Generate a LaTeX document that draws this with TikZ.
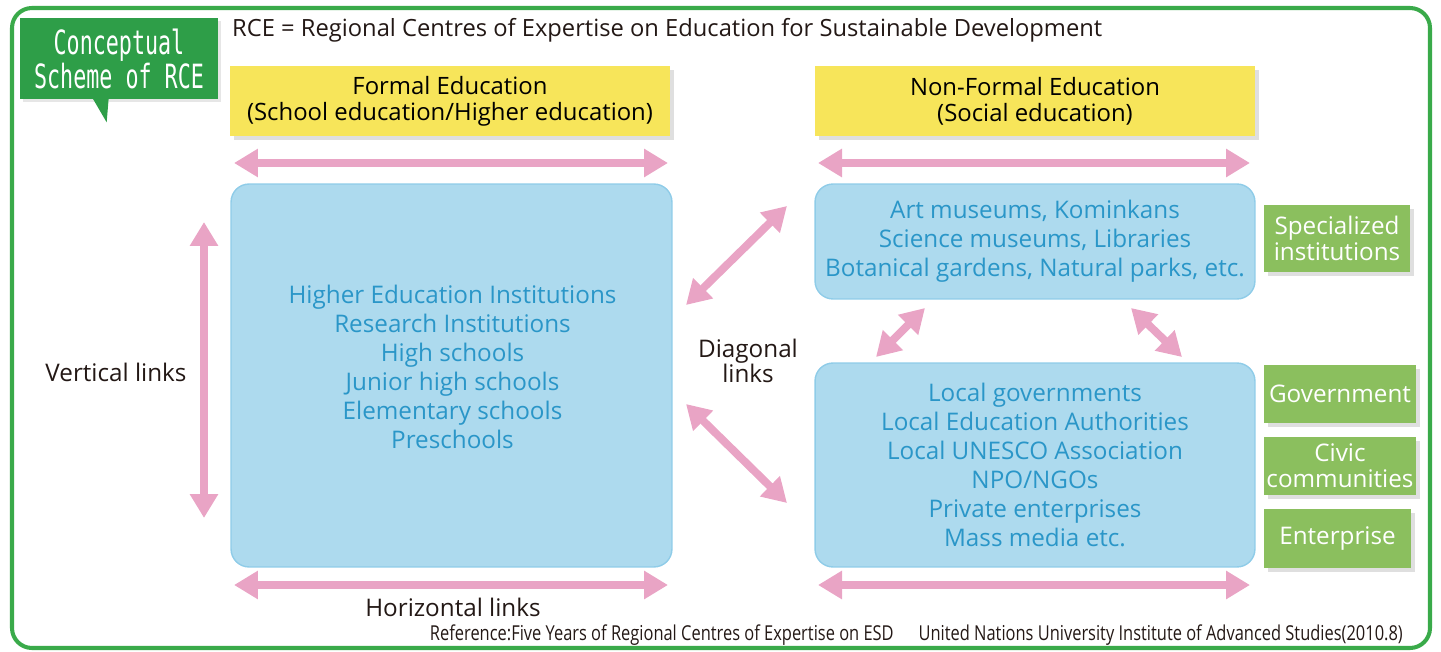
\documentclass[tikz,border=0pt]{standalone}
\usepackage{fontspec}
\setmainfont{Open Sans}
\newfontfamily\narrowfont[FakeStretch=0.8]{Open Sans}
\newfontfamily\calloutfont[FakeStretch=0.65]{DejaVu Sans Mono}
\usetikzlibrary{arrows.meta,shadows,calc}

\definecolor{framegreen}{HTML}{3AAA4A}
\definecolor{calloutgreen}{HTML}{2E9E48}
\definecolor{sidegreen}{HTML}{8BBF5E}
\definecolor{boxblue}{HTML}{ADDAEE}
\definecolor{boxedge}{HTML}{8FCCE8}
\definecolor{textblue}{HTML}{2A96C8}
\definecolor{headyellow}{HTML}{F7E55A}
\definecolor{linkpink}{HTML}{E9A4C5}
\definecolor{darktext}{HTML}{231815}

\begin{document}
\begin{tikzpicture}[x=0.02cm, y=-0.02cm,
    bluebox/.style={draw=boxedge, fill=boxblue, line width=0.8pt, rounded corners=0.36cm},
    bluetext/.style={align=center, text=textblue, font=\fontsize{13.8}{16.5}\selectfont},
    headbox/.style={fill=headyellow, align=center, text=black, minimum width=8.8cm, minimum height=1.4cm,
        font=\fontsize{13.6}{15}\selectfont, drop shadow={opacity=0.25, shadow xshift=0.08cm, shadow yshift=-0.08cm}},
    sidebox/.style={fill=sidegreen, align=center, text=white, font=\fontsize{13.8}{15}\selectfont,
        inner sep=0pt, drop shadow={opacity=0.25, shadow xshift=0.08cm, shadow yshift=-0.08cm}},
    linklabel/.style={align=center, text=darktext, font=\fontsize{13.8}{14.5}\selectfont},
    link/.style={draw=linkpink, line width=4.5pt,
        {Triangle[length=0.48cm,width=0.54cm]}-{Triangle[length=0.48cm,width=0.54cm]}}]
    \useasboundingbox (0,0) rectangle (1441,652);

    % frame
    \draw[framegreen, line width=2.3pt, rounded corners=0.4cm] (12,8) rectangle (1430,648);

    % callout
    \node[fill=calloutgreen, minimum width=3.96cm, minimum height=1.62cm, text=white, align=center,
        font=\calloutfont\fontsize{19}{18}\selectfont,
        drop shadow={opacity=0.2, shadow xshift=0.06cm, shadow yshift=-0.06cm}] (callout) at (119,58.5) {Conceptual\\Scheme of RCE};
    \fill[calloutgreen] ($(callout.south west)+(73,-1)$) -- ($(callout.south west)+(89,-1)$) -- ($(callout.south west)+(87,23)$) -- cycle;

    \node[anchor=west, text=darktext, font=\fontsize{13.5}{15}\selectfont] (title) at (226,30)
        {RCE = Regional Centres of Expertise on Education for Sustainable Development};

    % headings
    \node[headbox] (formalhead) at (450,101) {Formal Education\\(School education/Higher education)};
    \node[headbox] (nonformalhead) at (1035,101) {Non-Formal Education\\(Social education)};

    % boxes
    \node[bluebox, minimum width=8.82cm, minimum height=7.66cm] (formal) at (451.5,375.5) {};
    \node[bluetext] (formaltext) at ($(formal)+(1,-9)$)
        {Higher Education Institutions\\Research Institutions\\High schools\\Junior high schools\\Elementary schools\\Preschools};
    \node[bluebox, bluetext, minimum width=8.8cm, minimum height=2.3cm] (museums) at (1035,241.5)
        {Art museums, Kominkans\\Science museums, Libraries\\Botanical gardens, Natural parks, etc.};
    \node[bluebox, bluetext, minimum width=8.8cm, minimum height=4.08cm] (local) at (1035,465)
        {Local governments\\Local Education Authorities\\Local UNESCO Association\\NPO/NGOs\\Private enterprises\\Mass media etc.};

    % side labels
    \node[sidebox, minimum width=2.92cm, minimum height=1.34cm] (special) at (1337,238.5) {Specialized\\institutions};
    \node[sidebox, minimum width=3.04cm, minimum height=1.16cm] (gov) at (1340,394) {Government};
    \node[sidebox, minimum width=3.04cm, minimum height=1.16cm] (civic) at (1340,466) {Civic\\communities};
    \node[sidebox, minimum width=2.94cm, minimum height=1.18cm] (enterprise) at (1337.5,538.5) {Enterprise};

    % link labels
    \node[linklabel] (vertical) at (116,372) {Vertical links};
    \node[linklabel] (horizontal) at (453,607) {Horizontal links};
    \node[linklabel] (diagonal) at (748,361) {Diagonal\\links};

    % arrow ends
    \coordinate (ftl) at (234,163);  \coordinate (ftr) at (668,163);
    \coordinate (ntl) at (818,163);  \coordinate (ntr) at (1250,163);
    \coordinate (fbl) at (234,585);  \coordinate (fbr) at (668,585);
    \coordinate (nbl) at (818,585);  \coordinate (nbr) at (1250,585);
    \coordinate (vt) at (204,222);   \coordinate (vb) at (204,518);
    \coordinate (d1a) at (686,305);  \coordinate (d1b) at (787,206);
    \coordinate (d2a) at (686,404);  \coordinate (d2b) at (787,503);
    \coordinate (m1a) at (876,357);  \coordinate (m1b) at (925,308);
    \coordinate (m2a) at (1131,308); \coordinate (m2b) at (1182,357);

    \draw[link] (ftl) -- (ftr);
    \draw[link] (ntl) -- (ntr);
    \draw[link] (fbl) -- (fbr);
    \draw[link] (nbl) -- (nbr);
    \draw[link] (vt) -- (vb);
    \draw[link] (d1a) -- (d1b);
    \draw[link] (d2a) -- (d2b);
    \draw[link] (m1a) -- (m1b);
    \draw[link] (m2a) -- (m2b);

    % reference
    \node[anchor=east, text=darktext, font=\narrowfont\fontsize{11.7}{13}\selectfont] (source) at (1409,635)
        {Reference:Five Years of Regional Centres of Expertise on ESD\quad\ United Nations University Institute of Advanced Studies(2010.8)};
\end{tikzpicture}
\end{document}
